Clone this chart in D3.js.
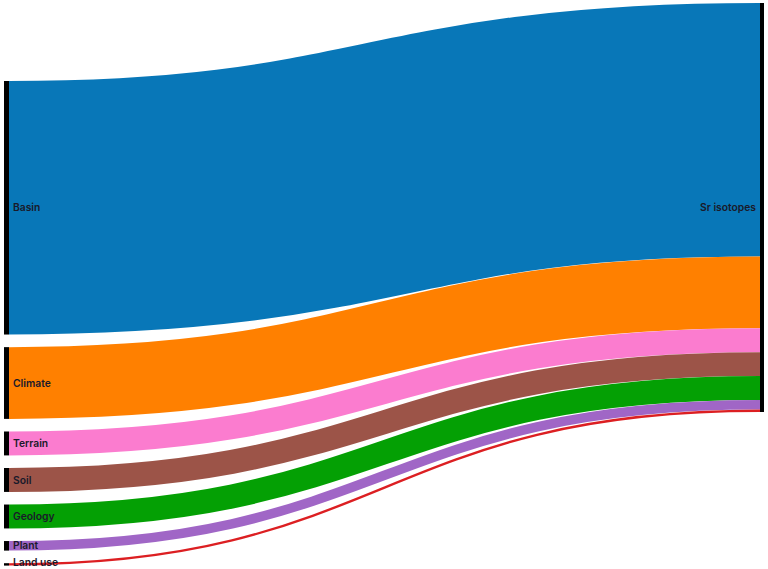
<!DOCTYPE html>
<html>
<head>
<meta charset="utf-8">
<script src="https://cdn.jsdelivr.net/npm/d3@7"></script>
<style>
  body { margin: 0; background: #fff; }
  svg { display: block; }
</style>
</head>
<body>
<svg id="chart"></svg>
<script>
// donnees du sankey
const sources = ["Basin", "Climate", "Terrain", "Soil", "Geology", "Plant", "Land use"];
const values = [106, 30, 10, 10, 10, 4, 1];
const target = "Sr isotopes";
const colors = ["#0877b8", "#ff8000", "#fb7ccf", "#9c5448", "#04a004", "#a066c6", "#dc1f22"];

const width = 768, height = 569;
const nodeWidth = 5;
const leftX = 4, rightX = 760;
const leftTop = 81, rightTop = 3;
const padding = 12.6;

const total = d3.sum(values);
const k = d3.scaleLinear().domain([0, total]).range([0, 409]);

const svg = d3.select("#chart")
    .attr("width", width)
    .attr("height", height)
    .attr("viewBox", [0, 0, width, height]);

// positions des noeuds a gauche et des liens a droite
let yl = leftTop, yr = rightTop;
const links = sources.map((name, i) => {
  const w = k(values[i]);
  const d = { name, value: values[i], w, color: colors[i], sy0: yl, sy1: yl + w, ty0: yr, ty1: yr + w };
  yl += w + padding;
  yr += w;
  return d;
});

const link = d3.linkHorizontal()
    .source(d => [leftX + nodeWidth, (d.sy0 + d.sy1) / 2])
    .target(d => [rightX, (d.ty0 + d.ty1) / 2]);

svg.append("g")
    .attr("fill", "none")
  .selectAll()
  .data(links)
  .join("path")
    .attr("d", link)
    .attr("stroke", d => d.color)
    .attr("stroke-width", d => Math.max(1.6, d.w));

// noeuds
svg.append("g")
    .attr("fill", "#000")
  .selectAll()
  .data(links)
  .join("rect")
    .attr("x", leftX)
    .attr("y", d => d.sy0)
    .attr("width", nodeWidth)
    .attr("height", d => Math.max(1.6, d.w));

svg.append("rect")
    .attr("x", rightX)
    .attr("y", rightTop)
    .attr("width", nodeWidth - 1)
    .attr("height", yr - rightTop)
    .attr("fill", "#000");

// etiquettes (la derniere est gardee dans le cadre)
const labels = svg.append("g")
    .attr("font-family", "Inter, 'Open Sans', sans-serif")
    .attr("font-size", 10.3)
    .attr("font-weight", 600)
    .attr("fill", "#1a1a2a");

labels.selectAll()
  .data(links)
  .join("text")
    .attr("x", leftX + nodeWidth + 4)
    .attr("y", d => Math.min((d.sy0 + d.sy1) / 2, height - 7))
    .attr("dy", "0.35em")
    .text(d => d.name);

labels.append("text")
    .attr("x", rightX - 4)
    .attr("y", (rightTop + yr) / 2)
    .attr("dy", "0.35em")
    .attr("text-anchor", "end")
    .text(target);
</script>
</body>
</html>
